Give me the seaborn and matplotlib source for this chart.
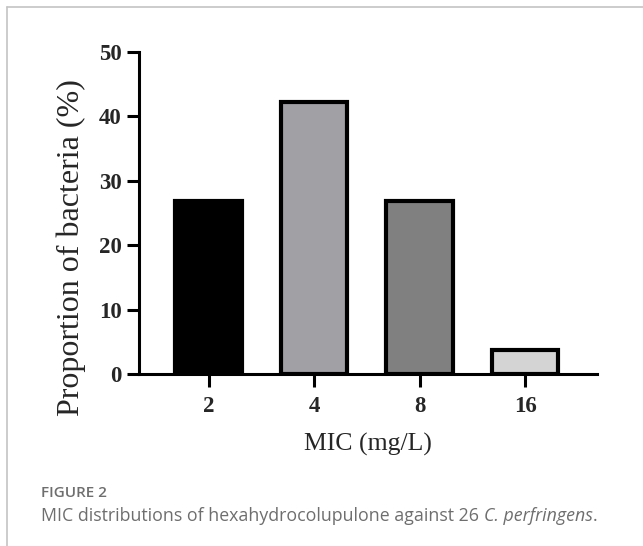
import matplotlib
matplotlib.use("Agg")
import matplotlib.pyplot as plt
from matplotlib.lines import Line2D
import seaborn as sns
import pandas as pd

mic = ["2", "4", "8", "16"]
proportion = [26.9, 42.3, 26.9, 3.8]
bar_colors = ["#000000", "#a1a0a5", "#808080", "#d4d4d4"]
yticks = [0, 10, 20, 30, 40, 50]

sns.set_style("white")
plt.rcParams["font.family"] = ["Liberation Serif", "DejaVu Serif"]

df = pd.DataFrame({"MIC": mic, "Proportion": proportion})

W, H = 643, 546
fig = plt.figure(figsize=(W / 100, H / 100), dpi=100)
ax = fig.add_axes([139 / W, 1 - 374 / H, (597 - 139) / W, (374 - 52) / H])

sns.barplot(data=df, x="MIC", y="Proportion", hue="MIC", order=mic, hue_order=mic,
            palette=bar_colors, legend=False, width=0.63, edgecolor="black",
            linewidth=3.0, saturation=1, ax=ax)

ax.set_ylim(0, 50)
ax.set_xlim(-0.66, 3.68)
ax.set_yticks(yticks)
ax.set_yticklabels([str(t) for t in yticks])
for s in ["top", "right"]:
    ax.spines[s].set_visible(False)
for s in ["left", "bottom"]:
    ax.spines[s].set_linewidth(2.2)
    ax.spines[s].set_color("black")
ax.tick_params(axis="both", direction="out", length=9, width=2.2, color="black",
               labelsize=16.5, left=True, bottom=True)
ax.tick_params(axis="y", pad=3.5)
ax.tick_params(axis="x", pad=6.5)
for lab in ax.get_xticklabels() + ax.get_yticklabels():
    lab.set_fontweight("bold")

ax.set_xlabel("MIC (mg/L)", fontsize=18.5, va="baseline")
ax.xaxis.set_label_coords(0.5, (374 - 451) / (374 - 52))
ax.set_ylabel("Proportion of bacteria (%)", fontsize=23, va="center")
ax.yaxis.set_label_coords((71 - 139) / (597 - 139), (374 - 247.5) / (374 - 52))

# figure frame lines (top and left)
fig.add_artist(Line2D([6.5 / W, 1], [1 - 6.5 / H, 1 - 6.5 / H], transform=fig.transFigure,
                      color="#c4c4c4", linewidth=1.2))
fig.add_artist(Line2D([6.5 / W, 6.5 / W], [0, 1 - 6.5 / H], transform=fig.transFigure,
                      color="#c4c4c4", linewidth=1.2))

cap_fam = ["Open Sans", "DejaVu Sans"]
cap_col = "#6e6e6e"
cap_size = 12.8
cap_y = 1 - 521 / H
fig.text(41 / W, 1 - 497 / H, "FIGURE 2", fontsize=11, color=cap_col, family=cap_fam,
         fontweight="semibold", va="baseline", ha="left")
t1 = fig.text(41 / W, cap_y, "MIC distributions of hexahydrocolupulone against 26 ",
              fontsize=cap_size, color=cap_col, family=cap_fam, va="baseline", ha="left")
fig.canvas.draw()
bb = t1.get_window_extent(renderer=fig.canvas.get_renderer())
t2 = fig.text(bb.x1 / W, cap_y, "C. perfringens", fontsize=cap_size, color=cap_col,
              family=cap_fam, style="italic", va="baseline", ha="left")
fig.canvas.draw()
bb2 = t2.get_window_extent(renderer=fig.canvas.get_renderer())
fig.text(bb2.x1 / W, cap_y, ".", fontsize=cap_size, color=cap_col, family=cap_fam,
         va="baseline", ha="left")

fig.savefig("out.png", dpi=100)
